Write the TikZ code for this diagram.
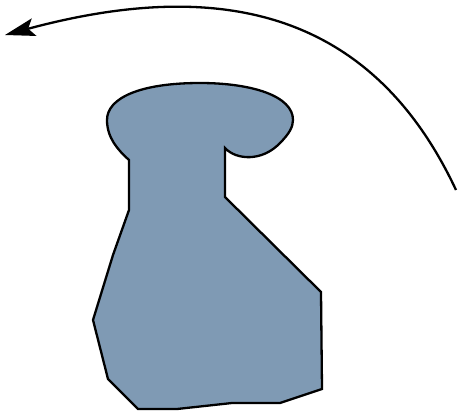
\documentclass[tikz,border=0pt]{standalone}
\usetikzlibrary{arrows.meta}
\definecolor{blobfill}{HTML}{7F9AB4}

\begin{document}
\begin{tikzpicture}[x=1pt, y=-1pt, line width=2.3pt,
  blob/.style={draw=black, fill=blobfill, line join=miter},
  sweep/.style={draw=black, -{Stealth[length=30pt, width=18pt, inset=6pt]}}]
  \useasboundingbox (0,0) rectangle (458,416);
  % body and cap
  \draw[blob] (129,160) -- (129,210) -- (113,255) -- (93,320) -- (108,379)
    -- (138,409) -- (177,409) -- (232,403) -- (280,403) -- (322,389)
    -- (321,292) -- (225,197) -- (225,148)
    .. controls (236,160) and (262,162) .. (280,143)
    .. controls (289,134) and (293,127) .. (293,120)
    .. controls (293,96) and (252,83) .. (200,83)
    .. controls (140,83) and (107,98) .. (107,120)
    .. controls (107,138) and (118,150) .. cycle;
  % rotation arrow
  \coordinate (arcstart) at (456,190);
  \coordinate (arcend) at (5,35);
  \draw[sweep] (arcstart) .. controls (367,0) and (205,-19) .. (arcend);
\end{tikzpicture}
\end{document}
